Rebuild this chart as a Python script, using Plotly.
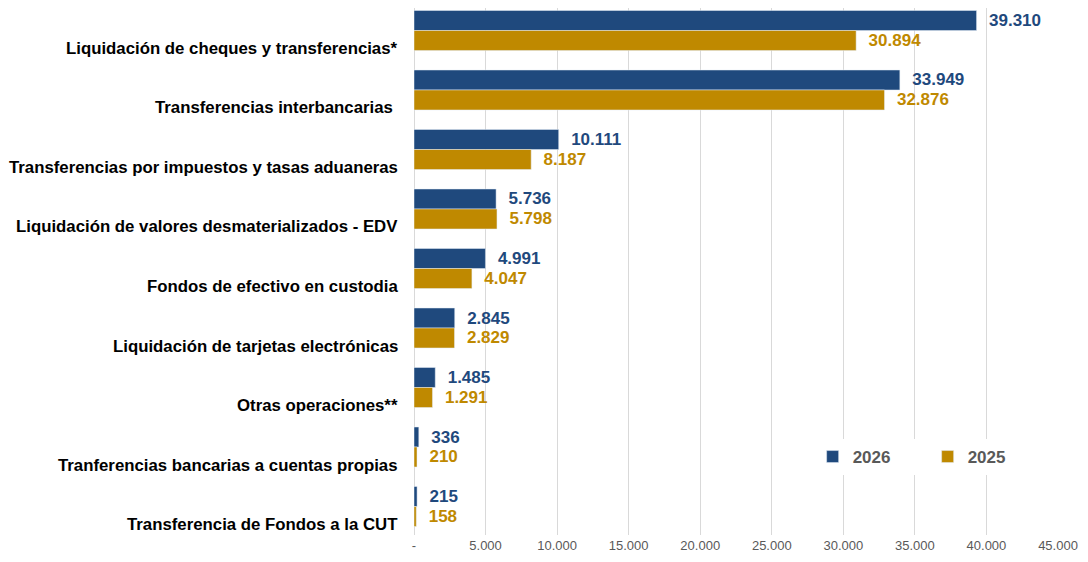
import plotly.graph_objects as go

categories = [
    "Liquidación de cheques y transferencias*",
    "Transferencias interbancarias ",
    "Transferencias por impuestos y tasas aduaneras",
    "Liquidación de valores desmaterializados - EDV",
    "Fondos de efectivo en custodia",
    "Liquidación de tarjetas electrónicas",
    "Otras operaciones**",
    "Tranferencias bancarias a cuentas propias",
    "Transferencia de Fondos a la CUT",
]
values_2026 = [39310, 33949, 10111, 5736, 4991, 2845, 1485, 336, 215]
values_2025 = [30894, 32876, 8187, 5798, 4047, 2829, 1291, 210, 158]
tick_vals = [0, 5000, 10000, 15000, 20000, 25000, 30000, 35000, 40000, 45000]
tick_text = ["-", "5.000", "10.000", "15.000", "20.000", "25.000", "30.000", "35.000", "40.000", "45.000"]

BLUE = "#1F497D"
GOLD = "#BF8900"
FONT = "Liberation Sans, Arial, sans-serif"

fig = go.Figure()
fig.add_trace(go.Bar(
    y=categories, x=values_2026, name="2026", orientation="h",
    marker=dict(color=BLUE), texttemplate="  %{x:,}", textposition="outside",
    textfont=dict(color=BLUE, size=17, family=FONT, weight="bold"), cliponaxis=False,
))
fig.add_trace(go.Bar(
    y=categories, x=values_2025, name="2025", orientation="h",
    marker=dict(color=GOLD), texttemplate="  %{x:,}", textposition="outside",
    textfont=dict(color=GOLD, size=17, family=FONT, weight="bold"), cliponaxis=False,
))

# category labels sit a little below the bar pair, as in the original
for cat in categories:
    fig.add_annotation(
        x=0, xref="paper", y=cat, yref="y", text=cat, showarrow=False,
        xanchor="right", yanchor="middle", xshift=-14, yshift=-18,
        font=dict(size=16.8, color="#000000", family=FONT, weight="bold"),
    )

# page body adds an 8px margin, so the figure is sized to fit inside it
fig.update_layout(
    width=1072, height=546,
    margin=dict(l=406, r=22, t=0, b=19),
    barmode="group", bargap=0.328, bargroupgap=0,
    separators=",.",
    plot_bgcolor="white", paper_bgcolor="white",
    font=dict(family=FONT),
    showlegend=True,
    legend=dict(
        orientation="h", x=0.619, y=0.148, xanchor="left", yanchor="middle",
        bgcolor="white", entrywidth=70, traceorder="normal", itemwidth=30,
        font=dict(size=17, color="#595959", family=FONT, weight="bold"),
    ),
    xaxis=dict(
        range=[0, 45000], tickvals=tick_vals, ticktext=tick_text,
        showgrid=True, gridcolor="#D9D9D9", gridwidth=1, zeroline=True,
        zerolinecolor="#D9D9D9", zerolinewidth=1, automargin=False,
        ticklabelstandoff=1,
        tickfont=dict(size=13, color="#595959", family=FONT), ticks="",
    ),
    yaxis=dict(
        range=[8.479, -0.378], showticklabels=False, showgrid=False,
        zeroline=False, ticks="",
    ),
)

fig.write_html("out.html")
